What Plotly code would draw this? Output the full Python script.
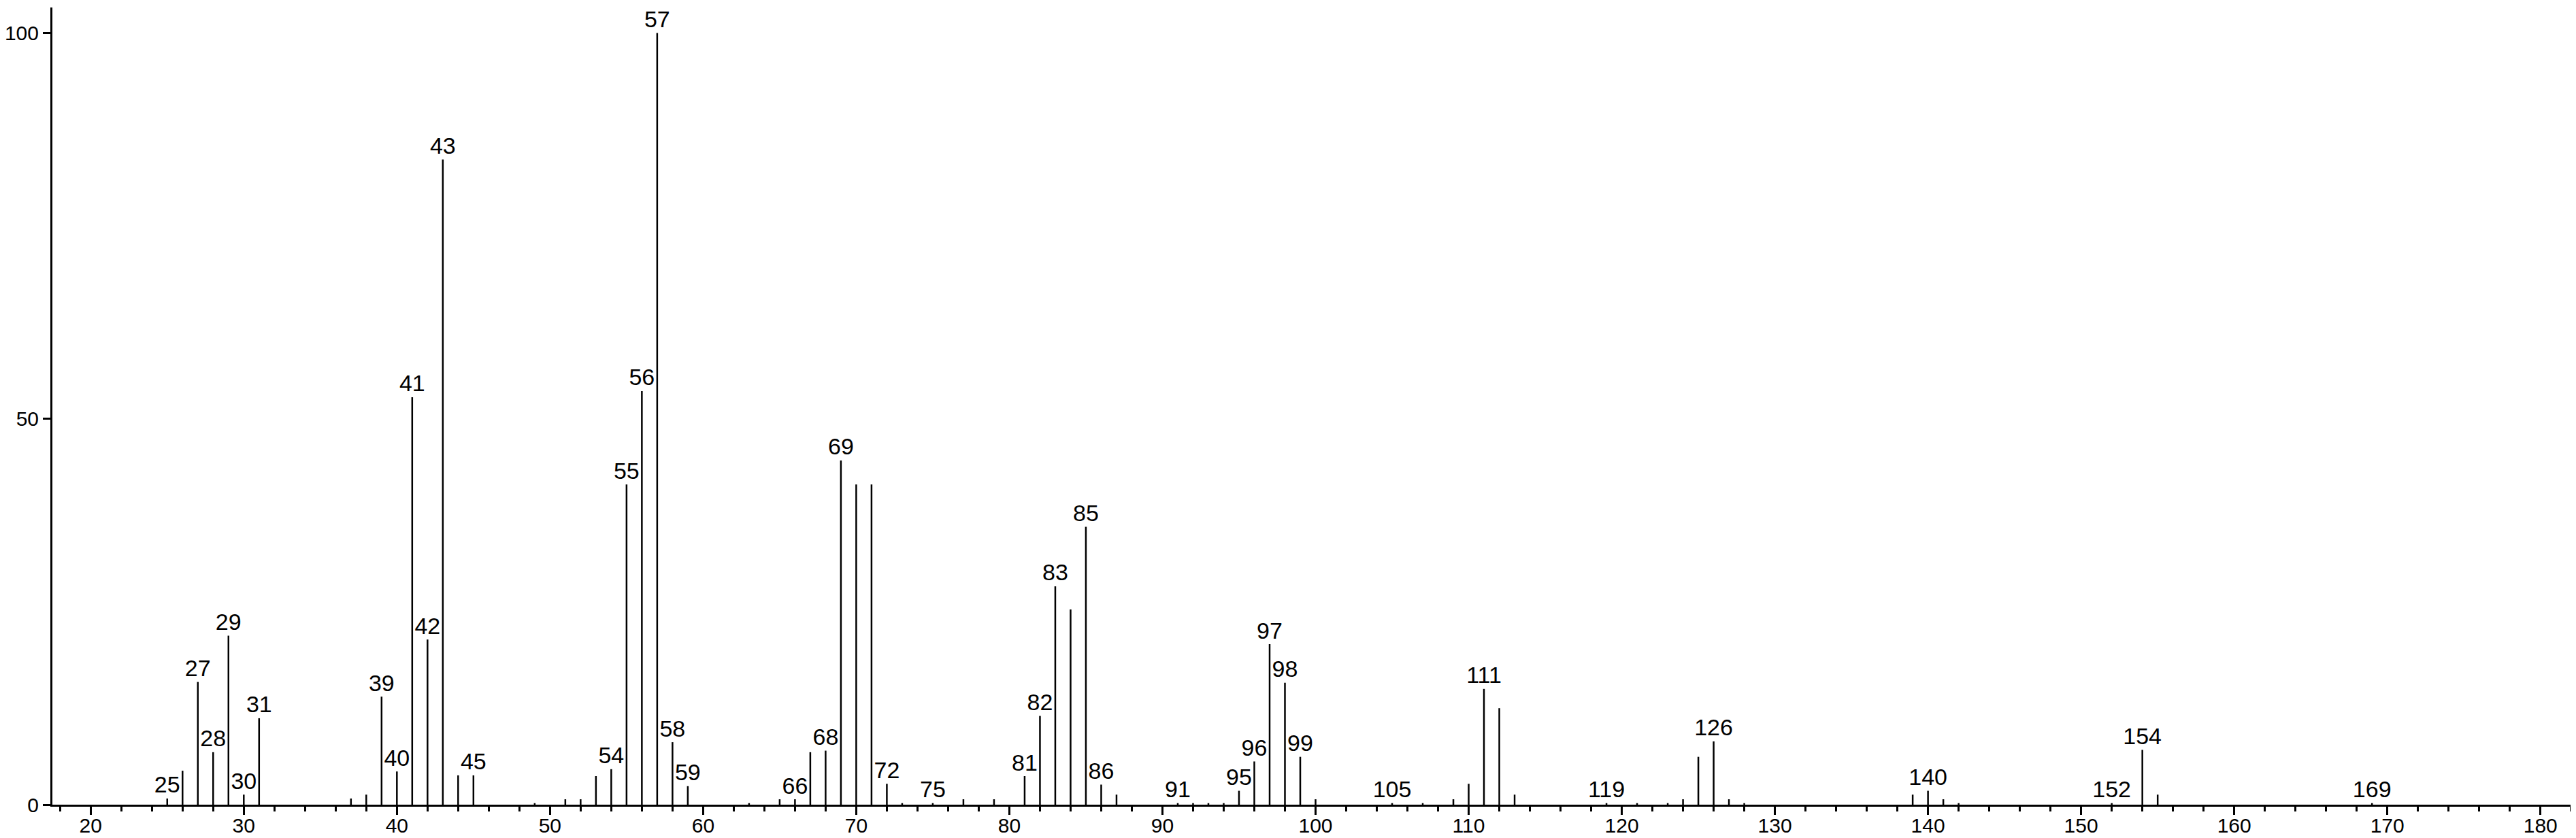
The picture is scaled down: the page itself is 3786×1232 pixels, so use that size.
import plotly.graph_objects as go

# m/z values and relative intensities (%)
mz = [25, 26, 27, 28, 29, 30, 31, 37, 38, 39, 40, 41, 42, 43, 44, 45,
      49, 51, 52, 53, 54, 55, 56, 57, 58, 59, 63, 65, 66, 67, 68, 69,
      70, 71, 72, 73, 75, 77, 79, 81, 82, 83, 84, 85, 86, 87, 91, 92,
      93, 94, 95, 96, 97, 98, 99, 100, 105, 107, 109, 110, 111, 112, 113,
      119, 121, 123, 124, 125, 126, 127, 128, 139, 140, 141, 142, 152,
      154, 155, 169]
intensity = [0.8, 4.4, 15.9, 6.8, 21.9, 1.3, 11.2, 0.8, 1.3, 14.0, 4.3, 52.8, 21.4, 83.6, 3.8, 3.8,
             0.2, 0.7, 0.7, 3.7, 4.6, 41.5, 53.6, 100, 8.1, 2.4, 0.2, 0.7, 0.7, 6.8, 7.0, 44.6,
             41.5, 41.5, 2.7, 0.2, 0.2, 0.7, 0.7, 3.7, 11.5, 28.3, 25.3, 36.0, 2.6, 1.3, 0.2, 0.2,
             0.2, 0.2, 1.8, 5.6, 20.8, 15.8, 6.2, 0.7, 0.2, 0.2, 0.7, 2.7, 15.0, 12.5, 1.3,
             0.2, 0.2, 0.2, 0.7, 6.2, 8.2, 0.7, 0.2, 1.3, 1.8, 0.7, 0.2, 0.2,
             7.1, 1.3, 0.2]

# peaks that carry a label
labelled = [25, 27, 28, 29, 30, 31, 39, 40, 41, 42, 43, 45, 54, 55, 56, 57, 58, 59,
            66, 68, 69, 72, 75, 81, 82, 83, 85, 86, 91, 95, 96, 97, 98, 99, 105,
            111, 119, 126, 140, 152, 154, 169]

xs, ys = [], []
for m, v in zip(mz, intensity):
    xs += [m, m, None]
    ys += [0, v, None]

lookup = dict(zip(mz, intensity))
lab_y = [lookup[m] for m in labelled]

fig = go.Figure()
fig.add_trace(go.Scatter(x=xs, y=ys, mode='lines',
                         line=dict(color='black', width=2.5),
                         hoverinfo='skip', showlegend=False))
fig.add_trace(go.Scatter(x=labelled, y=lab_y, mode='text',
                         text=[str(m) for m in labelled],
                         textposition='top center',
                         textfont=dict(size=34, color='black',
                                       family='Liberation Sans, Arial, sans-serif'),
                         cliponaxis=False, showlegend=False))

fig.update_layout(
    width=3786, height=1232,
    margin=dict(l=69, r=4, t=3, b=57),
    plot_bgcolor='white', paper_bgcolor='white',
    font=dict(family='Liberation Sans, Arial, sans-serif', size=30, color='black'),
    xaxis=dict(range=[17.5, 182.5], tick0=0, dtick=10, automargin=False,
               showline=True, linecolor='black', linewidth=3,
               ticks='outside', ticklen=12, tickwidth=3, tickcolor='black',
               ticklabelstandoff=-10,
               minor=dict(dtick=2, ticks='outside', ticklen=7, tickwidth=2.5,
                          tickcolor='black'),
               showgrid=False, zeroline=False, tickfont=dict(size=30)),
    yaxis=dict(range=[0, 103.3], tickvals=[0, 50, 100], automargin=False,
               showline=True, linecolor='black', linewidth=3,
               ticks='outside', ticklen=11, tickwidth=3, tickcolor='black',
               showgrid=False, zeroline=False, tickfont=dict(size=30)),
)

fig.write_html("out.html")
